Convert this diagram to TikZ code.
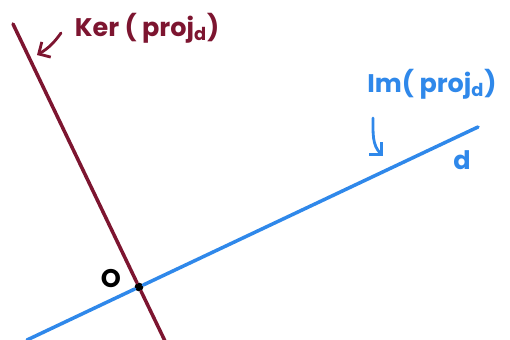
\documentclass[tikz,border=0pt]{standalone}
\usepackage{fontspec}
\setsansfont{Poppins}
\usetikzlibrary{positioning, arrows.meta}
\definecolor{kerline}{HTML}{7D1530}
\definecolor{imline}{HTML}{2F88EA}

\begin{document}
\begin{tikzpicture}[
    x=0.02cm, y=-0.02cm,
    >={Straight Barb[length=5pt, width=10pt]},
    kerstyle/.style={color=kerline, line width=2pt, line cap=round},
    imstyle/.style={color=imline, line width=2pt, line cap=round},
    hand/.style={font=\sffamily\fontsize{14.5}{17}\selectfont\bfseries},
    pointer/.style={->, line width=1.6pt, line cap=round},
]
\useasboundingbox (0,0) rectangle (510,340);

% ============================================================
% Origin and the two lines
% ============================================================
\node[circle, fill=black, inner sep=0pt, minimum size=5pt] (origin) at (139,287) {};
\node[hand, color=black] (origin-label) at (111,279) {O};

\coordinate (ker-top) at (13,24);
\coordinate (ker-bot) at (165,341);
\coordinate (im-left) at (27,340);
\coordinate (im-right) at (478,127);

\draw[kerstyle] (ker-top) -- (origin) -- (ker-bot);
\draw[imstyle] (im-left) -- (origin) -- (im-right);

% ============================================================
% Labels
% ============================================================
\node[hand, color=kerline] (ker-label) at (147,28) {Ker ( proj\textsubscript{d})};
\coordinate (ker-tail) at (61,33);
\coordinate (ker-tip) at (37,55);
\draw[pointer, color=kerline] (ker-tail) to[bend left=12] (ker-tip);

\node[hand, color=imline] (im-label) at (432,84) {Im( proj\textsubscript{d})};
\coordinate (im-tail) at (373,118);
\coordinate (im-tip) at (383,156);
\draw[pointer, color=imline] (im-tail) to[out=270, in=135] (im-tip);

\node[hand, color=imline] (d-label) at (462,160) {d};

\end{tikzpicture}
\end{document}
